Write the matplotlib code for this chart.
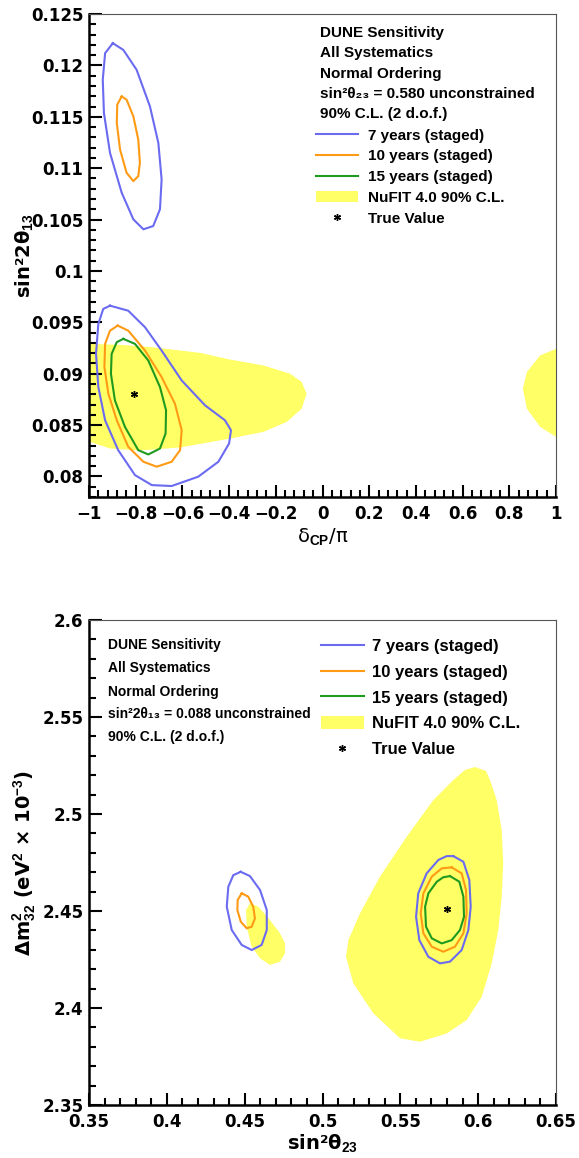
import matplotlib
matplotlib.use('Agg')
import matplotlib.pyplot as plt
from matplotlib.lines import Line2D
from matplotlib.patches import Patch
from matplotlib.ticker import MultipleLocator, FuncFormatter

plt.rcParams['font.family'] = ['DejaVu Sans']
plt.rcParams['font.weight'] = 'bold'
plt.rcParams['mathtext.fontset'] = 'custom'
plt.rcParams['mathtext.rm'] = 'Liberation Sans'
plt.rcParams['mathtext.bf'] = 'Liberation Sans:bold'
plt.rcParams['mathtext.it'] = 'Liberation Sans:italic'
plt.rcParams['mathtext.sf'] = 'Liberation Sans'

# ---------------- data: top panel (delta_CP/pi vs sin^2 2theta13) ----------------
true_dcp = [-0.806]
true_th13 = [0.088]

blue7_up_x = [-0.898, -0.853, -0.796, -0.739, -0.703, -0.689, -0.696, -0.725, -0.767, -0.810, -0.860, -0.910, -0.936, -0.941, -0.931]
blue7_up_y = [0.12216, 0.12151, 0.11957, 0.11601, 0.11246, 0.1089, 0.106, 0.10437, 0.10405, 0.10502, 0.10761, 0.11149, 0.11537, 0.1186, 0.12119]

orange10_up_x = [-0.860, -0.839, -0.810, -0.789, -0.782, -0.789, -0.810, -0.839, -0.867, -0.881, -0.879]
orange10_up_y = [0.11698, 0.11666, 0.11504, 0.11278, 0.11052, 0.10922, 0.10874, 0.10955, 0.11181, 0.1144, 0.11618]

blue7_lo_x = [-0.910, -0.832, -0.760, -0.689, -0.603, -0.503, -0.418, -0.392, -0.400, -0.446, -0.532, -0.646, -0.731, -0.803, -0.875, -0.931, -0.960, -0.970, -0.960, -0.939]
blue7_lo_y = [0.09662, 0.09613, 0.09452, 0.09225, 0.08934, 0.08692, 0.08547, 0.0845, 0.08321, 0.08143, 0.07998, 0.07907, 0.07916, 0.08013, 0.08256, 0.08547, 0.0887, 0.09193, 0.09484, 0.0963]

orange10_lo_x = [-0.877, -0.832, -0.760, -0.689, -0.632, -0.603, -0.610, -0.646, -0.710, -0.767, -0.832, -0.881, -0.917, -0.934, -0.931, -0.910]
orange10_lo_y = [0.09468, 0.09419, 0.09225, 0.08967, 0.08708, 0.0845, 0.08256, 0.08143, 0.08095, 0.08143, 0.08289, 0.08547, 0.08805, 0.09064, 0.0929, 0.09419]

green15_x = [-0.853, -0.803, -0.746, -0.696, -0.670, -0.672, -0.696, -0.746, -0.789, -0.846, -0.889, -0.906, -0.903, -0.881]
green15_y = [0.09339, 0.0929, 0.09128, 0.0887, 0.08644, 0.08418, 0.08272, 0.08214, 0.08256, 0.08482, 0.0874, 0.08999, 0.09193, 0.09307]

nufit_a_x = [-1.05, -1.0, -0.867, -0.731, -0.525, -0.396, -0.253, -0.139, -0.089, -0.068, -0.089, -0.153, -0.253, -0.396, -0.610, -0.782, -0.910, -1.0, -1.05]
nufit_a_y = [0.0929, 0.0929, 0.09281, 0.09258, 0.09203, 0.09138, 0.0908, 0.09, 0.08919, 0.08805, 0.0866, 0.08531, 0.08434, 0.08369, 0.08282, 0.08253, 0.08272, 0.0834, 0.0834]

nufit_b_x = [1.05, 1.0, 0.932, 0.875, 0.858, 0.875, 0.932, 1.0, 1.05]
nufit_b_y = [0.09242, 0.09242, 0.09177, 0.09016, 0.08854, 0.0866, 0.08483, 0.08386, 0.08386]

# ---------------- data: bottom panel (sin^2 theta23 vs dm2_32) ----------------
true_th23 = [0.580]
true_dm2 = [2.451]

nufitR_x = [0.598, 0.605, 0.6076, 0.6119, 0.6151, 0.6161, 0.6151, 0.6129, 0.6087, 0.6023, 0.5926, 0.5798, 0.5626, 0.5498, 0.5326, 0.5198, 0.5151, 0.5166, 0.5241, 0.5369, 0.5541, 0.5712, 0.584, 0.5915]
nufitR_y = [2.5242, 2.5222, 2.5175, 2.5072, 2.4917, 2.4746, 2.4574, 2.4402, 2.423, 2.4058, 2.3938, 2.3869, 2.3826, 2.3844, 2.3973, 2.4127, 2.4264, 2.435, 2.4488, 2.4677, 2.4883, 2.5072, 2.5175, 2.5227]

nufitL_x = [0.4534, 0.4588, 0.4663, 0.4727, 0.4759, 0.4759, 0.4727, 0.4663, 0.4599, 0.4545, 0.4513, 0.4509]
nufitL_y = [2.454, 2.4522, 2.4453, 2.4385, 2.4333, 2.4282, 2.4239, 2.4222, 2.4256, 2.4316, 2.4419, 2.4505]

b7R_x = [0.584, 0.5905, 0.5943, 0.5952, 0.5937, 0.5894, 0.5819, 0.5755, 0.568, 0.5622, 0.5601, 0.5615, 0.5669, 0.5744, 0.5798]
b7R_y = [2.4783, 2.4754, 2.466, 2.4522, 2.4402, 2.4299, 2.4239, 2.423, 2.4264, 2.435, 2.447, 2.4591, 2.4694, 2.4763, 2.4783]

o10R_x = [0.583, 0.5894, 0.5922, 0.5926, 0.5905, 0.5851, 0.5776, 0.5702, 0.5648, 0.5631, 0.5648, 0.5702, 0.5766]
o10R_y = [2.4725, 2.4694, 2.4608, 2.4488, 2.4385, 2.4316, 2.429, 2.4316, 2.4385, 2.4488, 2.4591, 2.4677, 2.472]

g15R_x = [0.5819, 0.5879, 0.5905, 0.5909, 0.5883, 0.583, 0.5766, 0.5702, 0.5665, 0.5659, 0.568, 0.5734, 0.5776]
g15R_y = [2.468, 2.4651, 2.4574, 2.447, 2.4402, 2.435, 2.4333, 2.4359, 2.4419, 2.4522, 2.4591, 2.4651, 2.4674]

b7L_x = [0.4475, 0.4534, 0.4599, 0.4642, 0.4642, 0.4609, 0.4545, 0.4481, 0.4417, 0.4385, 0.4395, 0.4427]
b7L_y = [2.4702, 2.468, 2.4608, 2.4505, 2.4402, 2.4325, 2.4299, 2.4325, 2.4402, 2.4522, 2.4625, 2.4685]

o10L_x = [0.4481, 0.4523, 0.4555, 0.4566, 0.4545, 0.4513, 0.4475, 0.4453, 0.4455]
o10L_y = [2.4591, 2.4574, 2.4522, 2.4462, 2.4419, 2.4411, 2.4445, 2.4505, 2.4557]

legend_labels = ['7 years (staged)', '10 years (staged)', '15 years (staged)', 'NuFIT 4.0 90% C.L.', 'True Value']

# ---------------- style ----------------
C_BLUE = '#6b6bf2'
C_ORANGE = '#ff9a14'
C_GREEN = '#1f9a1f'
C_YELLOW = '#ffff66'
LW = 1.5
TXT_FAM = ['Liberation Sans', 'DejaVu Sans']

fig = plt.figure(figsize=(5.79, 11.58), dpi=100)
ax1 = fig.add_axes([0.1537, 0.5708, 0.8066, 0.4171])
ax2 = fig.add_axes([0.1537, 0.04577, 0.8066, 0.4188])


def fmt(v, p):
    return f'{round(v, 6) + 0:g}'.replace('-', '\u2212')


def style(ax, xmaj, xmin, ymaj, ymin):
    for s in ['left', 'bottom']:
        ax.spines[s].set_linewidth(1.8)
        ax.spines[s].set_color('black')
    for s in ['top', 'right']:
        ax.spines[s].set_linewidth(0.8)
        ax.spines[s].set_color('#555555')
    ax.xaxis.set_major_locator(MultipleLocator(xmaj))
    ax.xaxis.set_minor_locator(MultipleLocator(xmin))
    ax.yaxis.set_major_locator(MultipleLocator(ymaj))
    ax.yaxis.set_minor_locator(MultipleLocator(ymin))
    ax.xaxis.set_major_formatter(FuncFormatter(fmt))
    ax.yaxis.set_major_formatter(FuncFormatter(fmt))
    ax.tick_params(which='both', direction='in', top=False, right=False, width=1.5, labelsize=12)
    ax.tick_params(which='major', length=9)
    ax.tick_params(which='minor', length=5)
    ax.tick_params(axis='x', pad=6)
    ax.tick_params(axis='y', pad=4)


def closed(ax, xs, ys, color):
    ax.plot(list(xs) + [xs[0]], list(ys) + [ys[0]], color=color, lw=LW, zorder=3, solid_joinstyle='round')


# ---- top panel ----
ax1.fill(nufit_a_x, nufit_a_y, color=C_YELLOW, lw=0, zorder=1)
ax1.fill(nufit_b_x, nufit_b_y, color=C_YELLOW, lw=0, zorder=1)
closed(ax1, blue7_up_x, blue7_up_y, C_BLUE)
closed(ax1, blue7_lo_x, blue7_lo_y, C_BLUE)
closed(ax1, orange10_up_x, orange10_up_y, C_ORANGE)
closed(ax1, orange10_lo_x, orange10_lo_y, C_ORANGE)
closed(ax1, green15_x, green15_y, C_GREEN)
ax1.plot(true_dcp, true_th13, ls='none', marker=(6, 2, 0), ms=5, mew=1, color='black', zorder=4)
ax1.set_xlim(-1, 1)
ax1.set_ylim(0.078, 0.125)
style(ax1, 0.2, 0.04, 0.005, 0.001)
ax1.set_xlabel('δ$_{\\mathrm{CP}}$/π', fontsize=14, fontweight='normal')
ax1.xaxis.set_label_coords(0.5, -0.081)
ax1.xaxis.label.set_va('center')
ax1.set_ylabel('sin²2θ$_{\\mathbf{13}}$', fontsize=14, fontweight='bold')
ax1.yaxis.set_label_coords(-0.139, 0.5)
ax1.yaxis.label.set_va('center')

top_lines = ['DUNE Sensitivity', 'All Systematics', 'Normal Ordering',
             'sin²θ₂₃ = 0.580 unconstrained', '90% C.L. (2 d.o.f.)']
top_base_px = [36.5, 56.5, 77.5, 97.5, 117.5]
for t, py in zip(top_lines, top_base_px):
    ax1.text(0.4946, (497 - py) / 483, t, transform=ax1.transAxes, fontsize=11,
             family=TXT_FAM, fontweight='bold', va='baseline', ha='left')

handles = [Line2D([], [], color=C_BLUE, lw=LW), Line2D([], [], color=C_ORANGE, lw=LW),
           Line2D([], [], color=C_GREEN, lw=LW), Patch(facecolor=C_YELLOW, edgecolor='none'),
           Line2D([], [], ls='none', marker=(6, 2, 0), ms=5, mew=1, color='black')]
leg1 = ax1.legend(handles, legend_labels, loc='upper left', bbox_to_anchor=(0.486, 0.7628),
                  frameon=False, borderpad=0, borderaxespad=0, handlelength=2.75,
                  handletextpad=0.65, handleheight=0.8, labelspacing=0.43, numpoints=1,
                  prop={'family': 'Liberation Sans', 'weight': 'bold', 'size': 11})

# ---- bottom panel ----
ax2.fill(nufitR_x, nufitR_y, color=C_YELLOW, lw=0, zorder=1)
ax2.fill(nufitL_x, nufitL_y, color=C_YELLOW, lw=0, zorder=1)
closed(ax2, b7R_x, b7R_y, C_BLUE)
closed(ax2, o10R_x, o10R_y, C_ORANGE)
closed(ax2, g15R_x, g15R_y, C_GREEN)
closed(ax2, b7L_x, b7L_y, C_BLUE)
closed(ax2, o10L_x, o10L_y, C_ORANGE)
ax2.plot(true_th23, true_dm2, ls='none', marker=(6, 2, 0), ms=5, mew=1, color='black', zorder=4)
ax2.set_xlim(0.35, 0.65)
ax2.set_ylim(2.35, 2.6)
style(ax2, 0.05, 0.01, 0.05, 0.01)
ax2.set_xlabel('sin²θ$_{\\mathbf{23}}$', fontsize=14, fontweight='bold')
ax2.xaxis.set_label_coords(0.5, -0.078)
ax2.xaxis.label.set_va('center')
ax2.set_ylabel('Δm$^{\\mathbf{2}}_{\\mathbf{32}}$ (eV$^{\\mathbf{2}}$ × 10$^{\\mathbf{-3}}$)', fontsize=14, fontweight='bold')
ax2.yaxis.set_label_coords(-0.137, 0.5)
ax2.yaxis.label.set_va('center')

bot_lines = ['DUNE Sensitivity', 'All Systematics', 'Normal Ordering',
             'sin²2θ₁₃ = 0.088 unconstrained', '90% C.L. (2 d.o.f.)']
bot_base_px = [648.6, 672.0, 695.5, 718.0, 740.5]
for t, py in zip(bot_lines, bot_base_px):
    ax2.text(0.0398, (1105 - py) / 485, t, transform=ax2.transAxes, fontsize=10,
             family=TXT_FAM, fontweight='bold', va='baseline', ha='left')

leg2 = ax2.legend(handles, legend_labels, loc='upper left', bbox_to_anchor=(0.496, 0.9614),
                  frameon=False, borderpad=0, borderaxespad=0, handlelength=2.58,
                  handletextpad=0.52, handleheight=0.8, labelspacing=0.64, numpoints=1,
                  prop={'family': 'Liberation Sans', 'weight': 'bold', 'size': 12})

fig.savefig('out.png', dpi=100)
